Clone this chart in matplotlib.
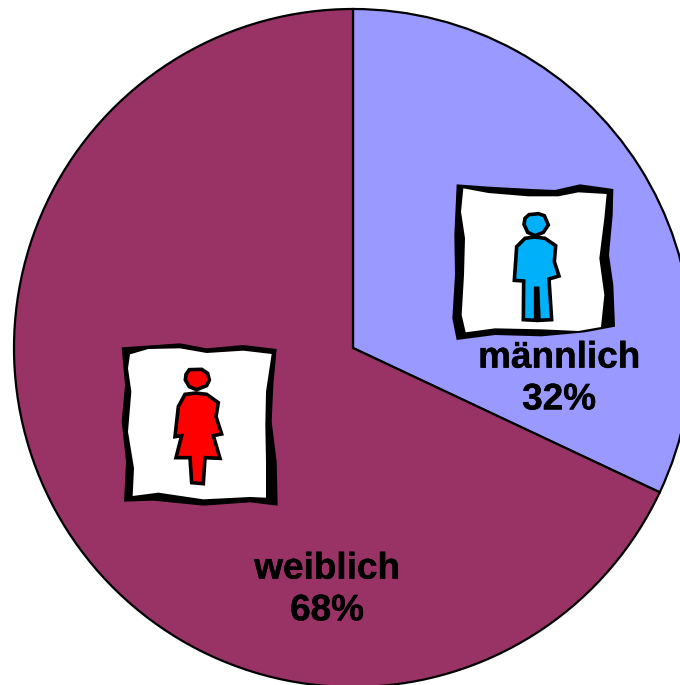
from matplotlib import pyplot as plt
from matplotlib.patches import Polygon
from matplotlib import patheffects

labels = ['männlich\n32%', 'weiblich\n68%']
shares = [32, 68]
colors = ['#9999FF', '#993366']

frame_m_out = [(35,28),(130,35),(260,42),(330,45),(405,28),(505,42),(503,120),(492,240),(505,330),(510,455),(420,472),(290,484),(150,480),(35,495),(22,430),(30,300),(28,180)]
frame_m_in = [(55,40),(130,54),(250,64),(340,64),(400,52),(485,57),(478,130),(463,250),(478,360),(468,456),(400,468),(290,463),(150,460),(62,472),(50,420),(57,300),(60,190),(48,110)]
head_m = [(252,119),(280,116),(298,122),(310,150),(295,172),(270,182),(248,172),(237,148),(240,130)]
body_m = [(240,190),(268,186),(300,190),(332,212),(328,260),(342,303),(312,312),(320,434),(282,436),(278,340),(272,340),(272,436),(235,434),(236,318),(208,316),(215,215)]
frame_w_out = [(35,37),(110,32),(210,25),(290,40),(400,30),(500,42),(490,150),(485,260),(500,380),(503,512),(420,502),(280,512),(130,497),(42,500),(48,380),(35,260),(45,150)]
frame_w_in = [(60,58),(115,42),(210,40),(290,54),(400,47),(485,57),(468,170),(466,270),(468,380),(468,488),(420,486),(280,493),(145,473),(68,483),(72,400),(54,290),(64,170),(54,100)]
head_w = [(238,104),(275,103),(293,115),(298,135),(290,152),(260,164),(238,155),(226,135),(228,118)]
body_w = [(225,178),(258,174),(290,178),(325,203),(318,245),(335,297),(310,302),(330,370),(285,368),(280,446),(245,443),(240,368),(198,368),(215,302),(195,305),(205,215)]

center = (353, 685 - 348)
radius = 339


def icon(ax, outer, inner, head, body, x0, y0, color):
    # crop coordinates -> figure pixels
    conv = lambda pts: [(x0 + x / 3, 685 - (y0 + y / 3)) for x, y in pts]
    ax.add_patch(Polygon(conv(outer), fc='black', ec='none', zorder=3))
    ax.add_patch(Polygon(conv(inner), fc='white', ec='none', zorder=4))
    ax.add_patch(Polygon(conv(head), fc=color, ec='black', lw=2.6, zorder=5))
    ax.add_patch(Polygon(conv(body), fc=color, ec='black', lw=2.6, zorder=5))


fig = plt.figure(figsize=(6.8, 6.85), dpi=100)
axes = fig.add_axes([0, 0, 1, 1])
axes.pie(shares, colors=colors, startangle=90, counterclock=False, center=center, radius=radius,
         wedgeprops={'edgecolor': 'black', 'linewidth': 1.6}, frame=True)
axes.set_xlim(0, 680)
axes.set_ylim(0, 685)
axes.axis('off')

icon(axes, frame_m_out, frame_m_in, head_m, body_m, 445, 175, '#00B0F8')
icon(axes, frame_w_out, frame_w_in, head_w, body_w, 110, 335, '#FF0000')

stroke = [patheffects.withStroke(linewidth=0.3, foreground='black')]
axes.text(559, 685 - 379, labels[0], ha='center', va='center', fontsize=26.6, fontweight='bold',
          family='Liberation Sans', linespacing=1.25, zorder=6, path_effects=stroke)
axes.text(327, 685 - 590, labels[1], ha='center', va='center', fontsize=26.6, fontweight='bold',
          family='Liberation Sans', linespacing=1.25, zorder=6, path_effects=stroke)

plt.savefig('out.png', dpi=100)
